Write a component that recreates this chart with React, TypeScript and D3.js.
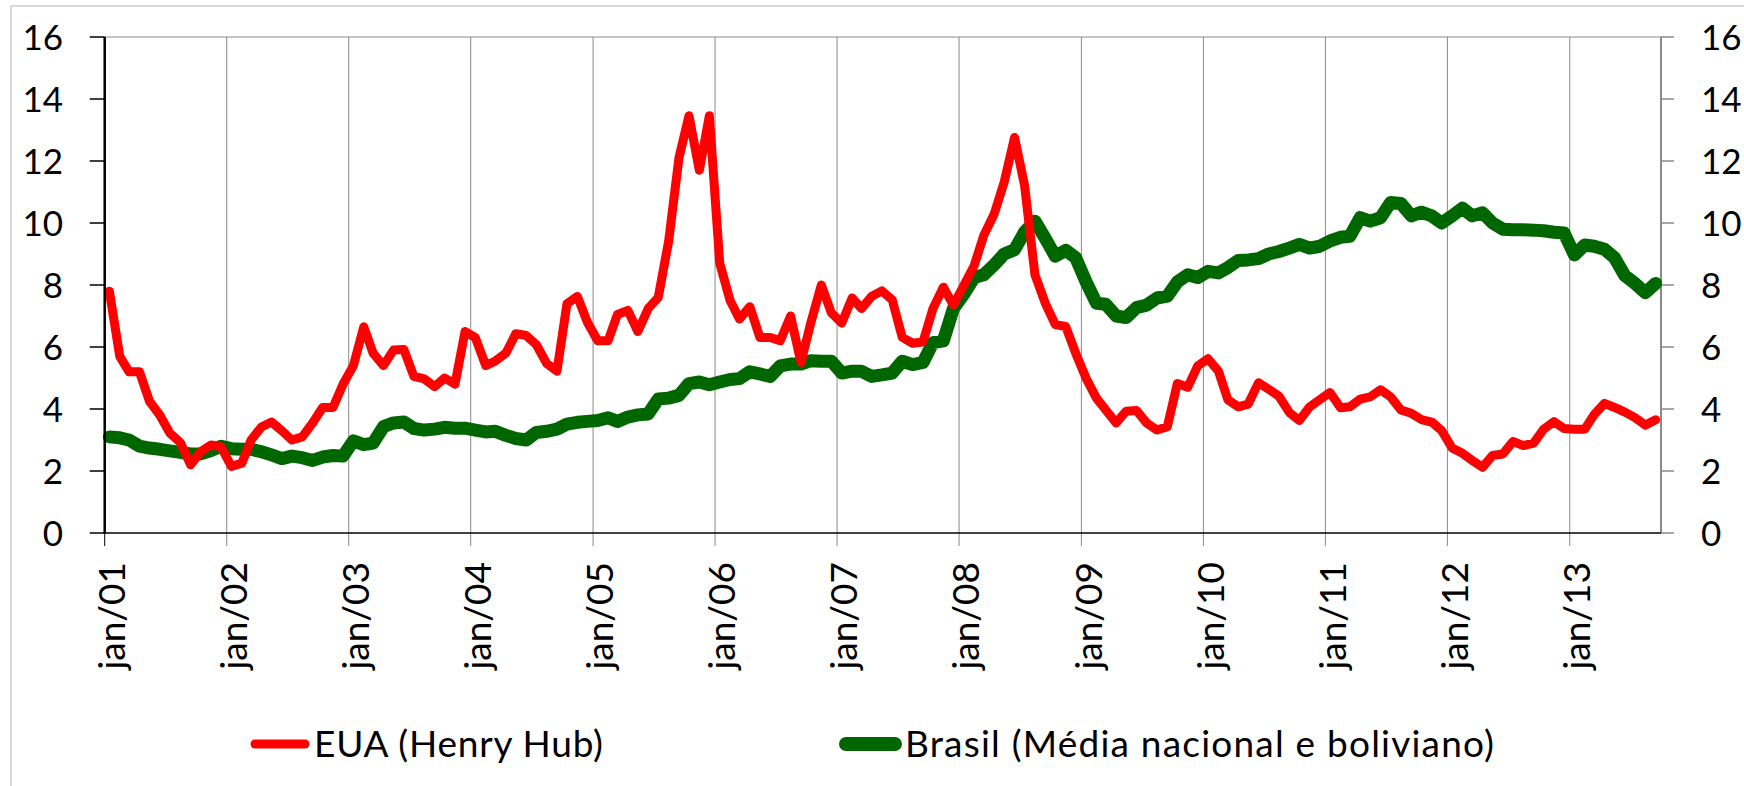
import React from "react";
import * as d3 from "d3";

const W = 1744;
const H = 786;

// EUA (Henry Hub) - monthly, jan/01 to set/13
const eua = [
  7.8, 5.7, 5.2, 5.2, 4.25, 3.8, 3.22, 2.92, 2.2, 2.62, 2.84, 2.78,
  2.15, 2.25, 3.0, 3.42, 3.58, 3.3, 3.0, 3.1, 3.55, 4.05, 4.05, 4.8,
  5.4, 6.65, 5.8, 5.4, 5.9, 5.92, 5.05, 4.97, 4.72, 5.0, 4.8, 6.5,
  6.3, 5.4, 5.55, 5.8, 6.43, 6.37, 6.08, 5.47, 5.22, 7.4, 7.63, 6.8,
  6.2, 6.2, 7.05, 7.18, 6.5, 7.24, 7.6, 9.4, 12.1, 13.46, 11.7, 13.46,
  8.7, 7.5, 6.9, 7.3, 6.31, 6.31, 6.2, 7.0, 5.5, 6.8, 8.0, 7.1,
  6.77, 7.58, 7.24, 7.64, 7.81, 7.52, 6.31, 6.12, 6.16, 7.24, 7.93, 7.35,
  7.98, 8.62, 9.6, 10.29, 11.32, 12.76, 11.21, 8.33, 7.41, 6.72, 6.66, 5.8,
  4.99, 4.35, 3.97, 3.55, 3.93, 3.95, 3.55, 3.32, 3.43, 4.82, 4.7, 5.39,
  5.62, 5.22, 4.3, 4.07, 4.16, 4.85, 4.64, 4.41, 3.89, 3.63, 4.07, 4.3,
  4.53, 4.04, 4.07, 4.32, 4.39, 4.62, 4.39, 3.97, 3.86, 3.66, 3.58, 3.3,
  2.74, 2.57, 2.34, 2.12, 2.5, 2.55, 2.95, 2.82, 2.9, 3.35, 3.59, 3.37,
  3.35, 3.35, 3.82, 4.18, 4.05, 3.9, 3.72, 3.48, 3.65,
];

// Brasil (Média nacional e boliviano)
const brasil = [
  3.1, 3.07, 3.0, 2.8, 2.74, 2.7, 2.65, 2.6, 2.55, 2.55, 2.66, 2.8,
  2.72, 2.7, 2.7, 2.62, 2.52, 2.4, 2.48, 2.43, 2.34, 2.45, 2.5, 2.48,
  2.97, 2.85, 2.9, 3.43, 3.55, 3.58, 3.37, 3.32, 3.35, 3.41, 3.38, 3.38,
  3.32, 3.26, 3.28, 3.15, 3.05, 3.0, 3.24, 3.28, 3.35, 3.51, 3.57, 3.6,
  3.63, 3.72, 3.6, 3.74, 3.81, 3.84, 4.32, 4.35, 4.44, 4.82, 4.87, 4.78,
  4.87, 4.95, 4.98, 5.2, 5.13, 5.05, 5.39, 5.45, 5.45, 5.56, 5.54, 5.54,
  5.16, 5.22, 5.22, 5.05, 5.1, 5.16, 5.54, 5.43, 5.5, 6.14, 6.2, 7.24,
  7.7, 8.24, 8.33, 8.65, 9.0, 9.14, 9.71, 10.06, 9.5, 8.93, 9.12, 8.88,
  8.1, 7.41, 7.38, 7.0, 6.95, 7.27, 7.35, 7.58, 7.64, 8.1, 8.33, 8.24,
  8.44, 8.39, 8.56, 8.79, 8.81, 8.85, 9.0, 9.08, 9.19, 9.31, 9.19, 9.25,
  9.42, 9.54, 9.57, 10.17, 10.06, 10.17, 10.66, 10.63, 10.23, 10.35, 10.23, 10.0,
  10.23, 10.48, 10.23, 10.33, 10.0, 9.8, 9.78, 9.78, 9.77, 9.75, 9.7, 9.68,
  8.97, 9.29, 9.25, 9.15, 8.88, 8.3, 8.05, 7.75, 8.05,
];

const yTicks = [0, 2, 4, 6, 8, 10, 12, 14, 16];
const xLabels = [
  "jan/01", "jan/02", "jan/03", "jan/04", "jan/05", "jan/06", "jan/07",
  "jan/08", "jan/09", "jan/10", "jan/11", "jan/12", "jan/13",
];

const seriesList = [
  { name: "EUA (Henry Hub)", values: eua, color: "#ff0000", width: 9 },
  { name: "Brasil (Média nacional e boliviano)", values: brasil, color: "#006600", width: 13 },
];

const FONT = "Lato, 'Open Sans', sans-serif";

export default function App() {
  const left = 104.7;
  const right = 1661;
  const top = 37;
  const bottom = 533;

  const x = d3
    .scaleTime()
    .domain([new Date(2001, 0, 1), new Date(2013, 9, 1)])
    .range([left, right]);
  const y = d3.scaleLinear().domain([0, 16]).range([bottom, top]);

  // monthly values plotted mid-month
  const dates = eua.map((_, i) => new Date(2001, i, 15));
  const line = d3
    .line<number>()
    .x((_, i) => x(dates[i]))
    .y((d) => y(d));

  const jans = xLabels.map((_, i) => new Date(2001 + i, 0, 1));

  // green drawn first, red on top (as in the reference)
  const drawOrder = [seriesList[1], seriesList[0]];

  const legend = [
    { s: seriesList[0], x0: 255, x1: 305, tx: 314, len: 289, sw: 9 },
    { s: seriesList[1], x0: 846, x1: 895, tx: 905, len: 589, sw: 14 },
  ];

  return (
    <svg
      width={W}
      height={H}
      style={{ position: "absolute", left: 0, top: 0, background: "#fff" }}
      fontFamily={FONT}
    >
      <rect x={11} y={6} width={W + 10} height={H + 10} fill="#fff" stroke="#d9d9d9" strokeWidth={2} />

      {/* vertical gridlines + ticks below axis */}
      {jans.map((d, i) => (
        <line
          key={"g" + i}
          x1={x(d)}
          x2={x(d)}
          y1={top}
          y2={bottom + 13}
          stroke={i === 0 ? "#000" : "#8a8a8a"}
          strokeWidth={1}
        />
      ))}

      {/* plot area top border */}
      <line x1={left} x2={right} y1={top} y2={top} stroke="#8a8a8a" strokeWidth={1} />

      {/* right axis */}
      <line x1={right} x2={right} y1={top} y2={bottom} stroke="#8a8a8a" strokeWidth={2} />
      {yTicks.map((t) => (
        <g key={"r" + t}>
          <line x1={right} x2={right + 13} y1={y(t)} y2={y(t)} stroke="#8a8a8a" strokeWidth={1.5} />
          <text x={1701} y={y(t)} dy="0.36em" fontSize={35} fill="#000">
            {t}
          </text>
        </g>
      ))}

      {/* left axis */}
      {yTicks.map((t) => (
        <g key={"l" + t}>
          <line x1={left - 15} x2={left} y1={y(t)} y2={y(t)} stroke="#000" strokeWidth={1.5} />
          <text x={63} y={y(t)} dy="0.36em" fontSize={35} textAnchor="end" fill="#000">
            {t}
          </text>
        </g>
      ))}

      {/* series */}
      {drawOrder.map((s) => (
        <path
          key={s.name}
          d={line(s.values) || ""}
          fill="none"
          stroke={s.color}
          strokeWidth={s.width}
          strokeLinejoin="round"
          strokeLinecap="round"
        />
      ))}

      <line x1={left} x2={left} y1={top} y2={bottom + 1} stroke="#000" strokeWidth={2.5} />
      <line x1={left} x2={right} y1={bottom} y2={bottom} stroke="#000" strokeWidth={1.5} />

      {/* x labels */}
      {jans.map((d, i) => (
        <text
          key={"x" + i}
          transform={`translate(${x(d)},562) rotate(-90)`}
          dy="0.55em"
          textAnchor="end"
          fontSize={37}
          fill="#000"
        >
          {xLabels[i]}
        </text>
      ))}

      {/* legend */}
      {legend.map((l) => (
        <g key={l.s.name}>
          <line
            x1={l.x0}
            x2={l.x1}
            y1={744}
            y2={744}
            stroke={l.s.color}
            strokeWidth={l.sw}
            strokeLinecap="round"
          />
          <text x={l.tx} y={757} fontSize={37} fill="#000" textLength={l.len} lengthAdjust="spacing">
            {l.s.name}
          </text>
        </g>
      ))}
    </svg>
  );
}
